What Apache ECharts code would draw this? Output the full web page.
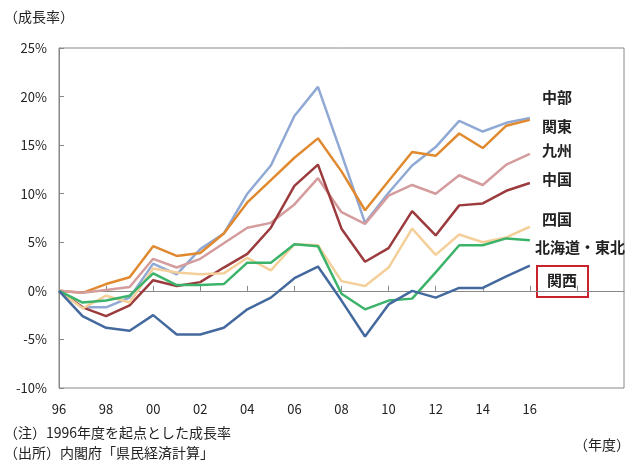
<!DOCTYPE html>
<html>
<head>
<meta charset="utf-8">
<script src="https://cdn.jsdelivr.net/npm/echarts@6/dist/echarts.min.js"></script>
<style>
  html, body { margin: 0; padding: 0; background: #fff; }
  #chart { width: 632px; height: 462px; }
</style>
</head>
<body>
<div id="chart"></div>
<script>
// 1996年度を起点とした成長率（%）
var years = [1996, 1997, 1998, 1999, 2000, 2001, 2002, 2003, 2004, 2005, 2006,
             2007, 2008, 2009, 2010, 2011, 2012, 2013, 2014, 2015, 2016];
var chubu    = [0, -1.7, -1.7, -0.7, 2.8, 1.7, 4.3, 5.9, 10.0, 12.9, 18.0, 21.0, 14.1, 7.0, 10.1, 12.9, 14.8, 17.5, 16.4, 17.3, 17.8];
var kanto    = [0, -0.2, 0.7, 1.4, 4.6, 3.6, 3.9, 5.9, 9.1, 11.4, 13.7, 15.7, 12.3, 8.3, 11.3, 14.3, 13.9, 16.2, 14.7, 17.0, 17.6];
var kyushu   = [0, -0.2, 0.1, 0.4, 3.3, 2.4, 3.3, 4.9, 6.5, 7.0, 8.9, 11.6, 8.1, 6.9, 9.8, 10.9, 10.0, 11.9, 10.9, 13.0, 14.1];
var chugoku  = [0, -1.7, -2.6, -1.5, 1.1, 0.5, 0.9, 2.4, 3.8, 6.5, 10.8, 13.0, 6.4, 3.0, 4.4, 8.2, 5.7, 8.8, 9.0, 10.3, 11.1];
var shikoku  = [0, -1.8, -0.5, -1.2, 2.3, 1.9, 1.7, 1.8, 3.4, 2.1, 4.8, 4.7, 1.0, 0.5, 2.4, 6.4, 3.7, 5.8, 5.0, 5.5, 6.6];
var hokTohoku = [0, -1.2, -1.0, -0.5, 1.8, 0.6, 0.6, 0.7, 2.9, 2.9, 4.8, 4.6, -0.3, -1.9, -1.0, -0.8, 1.9, 4.7, 4.7, 5.4, 5.2];
var kansai   = [0, -2.6, -3.8, -4.1, -2.5, -4.5, -4.5, -3.8, -1.9, -0.7, 1.3, 2.5, -1.0, -4.7, -1.4, 0.0, -0.7, 0.3, 0.3, 1.5, 2.6];

var yTicks = [-10, -5, 0, 5, 10, 15, 20, 25];

var font = '"Noto Sans CJK JP", "Noto Sans", sans-serif';
var dom = document.getElementById('chart');
var myChart = echarts.init(dom);

function pairs(vals) {
    return years.map(function (y, i) { return [y, vals[i]]; });
}

function line(name, vals, color) {
    return {
        name: name,
        type: 'line',
        data: pairs(vals),
        symbol: 'none',
        smooth: false,
        lineStyle: { color: color, width: 2.5 },
        itemStyle: { color: color }
    };
}

function label(text, x, y) {
    return {
        type: 'text', left: x, top: y,
        style: { text: text, font: 'bold 15px ' + font, fill: '#222' }
    };
}

var option = {
    animation: false,
    backgroundColor: '#fff',
    grid: {
        show: true,
        left: 59, top: 48, right: 8, bottom: 74,
        borderColor: '#888', borderWidth: 1
    },
    xAxis: {
        type: 'value',
        min: 1996, max: 2020, interval: 2,
        axisLine: { lineStyle: { color: '#888' } },
        axisTick: { inside: true, length: 5, lineStyle: { color: '#888' } },
        splitLine: { show: false },
        axisLabel: {
            margin: 15, color: '#222', fontSize: 13, fontFamily: font,
            showMaxLabel: false,
            formatter: function (v) {
                if (v > 2016) return '';
                return String(v).slice(2);
            }
        }
    },
    yAxis: {
        type: 'value',
        min: yTicks[0], max: yTicks[yTicks.length - 1], interval: 5,
        axisLine: { show: true, lineStyle: { color: '#888' } },
        axisTick: { show: true, inside: true, length: 5, lineStyle: { color: '#888' } },
        splitLine: { show: false },
        axisLabel: {
            margin: 12, color: '#222', fontSize: 13, fontFamily: font,
            formatter: '{value}%'
        }
    },
    series: [
        line('中部', chubu, '#8fa9d4'),
        line('関東', kanto, '#e0892f'),
        line('九州', kyushu, '#d49c9c'),
        line('中国', chugoku, '#9c3b3d'),
        line('四国', shikoku, '#f5cf9a'),
        line('北海道・東北', hokTohoku, '#3cb36a'),
        line('関西', kansai, '#44699e')
    ],
    graphic: [
        { type: 'text', left: 4, top: 10,
          style: { text: '（成長率）', font: '14px ' + font, fill: '#222' } },
        label('中部', 542, 90),
        label('関東', 542, 119),
        label('九州', 542, 143),
        label('中国', 542, 172),
        label('四国', 542, 212),
        label('北海道・東北', 535, 240),
        label('関西', 547, 273),
        { type: 'rect', shape: { x: 537, y: 266, width: 51, height: 31 },
          style: { fill: 'none', stroke: '#c8232c', lineWidth: 2 } },
        { type: 'text', left: 4, top: 426,
          style: { text: '（注）1996年度を起点とした成長率', font: '14px ' + font, fill: '#222' } },
        { type: 'text', left: 4, top: 446,
          style: { text: '（出所）内閣府「県民経済計算」', font: '14px ' + font, fill: '#222' } },
        { type: 'text', right: 2, top: 438,
          style: { text: '（年度）', font: '14px ' + font, fill: '#222' } }
    ]
};

if (option && typeof option === 'object') {
    myChart.setOption(option, true);
}
</script>
</body>
</html>
